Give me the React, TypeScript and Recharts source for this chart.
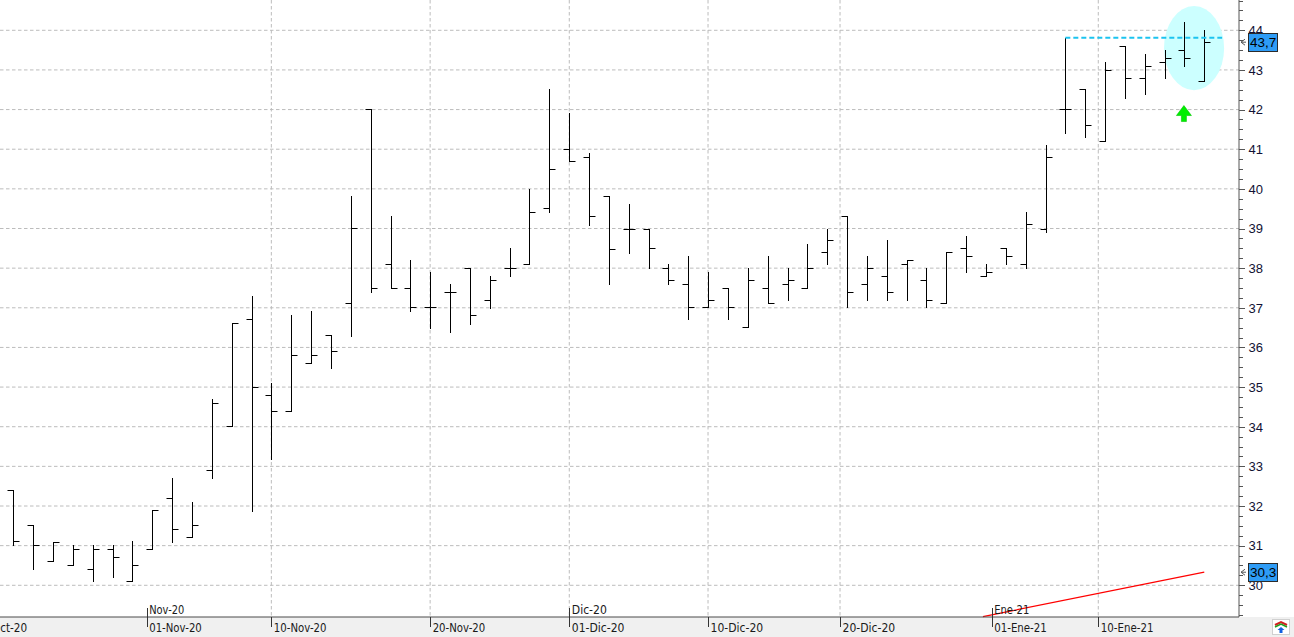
import React from 'react';
import {
  ComposedChart,
  Bar,
  XAxis,
  YAxis,
  CartesianGrid,
  ReferenceLine,
  ReferenceDot,
  ReferenceArea,
} from 'recharts';

// Daily OHLC bars (22-Oct-20 .. 18-Ene-21), one per trading day
const opens = [
  32.4, 31.52, 30.61, 30.5, 30.41, 30.91, 30.11, 30.91, 32.2, 31.21,
  32.91, 34.02, 36.71, 34.79, 34.39, 35.6, 36.31, 37.12, 42.01, 38.1,
  37.49, 37.01, 37.39, 38.0, 37.19, 38.0, 38.1, 39.51, 41.0, 40.8,
  39.81, 39.0, 39.0, 38.0, 37.59, 37.01, 37.49, 36.51, 37.49, 37.59,
  37.49, 38.4, 39.32, 37.59, 37.79, 38.1, 37.7, 37.11, 38.5, 37.79,
  38.5, 38.1, 39.0, 42.01, 42.51, 41.2, 43.6, 42.79, 43.19, 43.5,
  42.72,
];
const highs = [
  32.4, 31.52, 31.1, 31.02, 31.02, 31.02, 31.12, 31.9, 32.71, 32.11,
  34.7, 36.61, 37.3, 35.1, 36.82, 36.92, 36.31, 39.82, 42.01, 39.32,
  38.21, 37.9, 37.6, 38.0, 37.79, 38.5, 39.99, 42.51, 41.92, 40.9,
  39.81, 39.62, 39.0, 38.1, 38.3, 37.9, 37.49, 38.0, 38.3, 38.0,
  38.6, 39.0, 39.32, 38.3, 38.7, 38.2, 38.0, 38.4, 38.8, 38.1,
  38.5, 39.41, 41.11, 43.81, 42.51, 43.19, 43.6, 43.39, 43.5, 44.2,
  44.0,
];
const lows = [
  31.02, 30.41, 30.61, 30.5, 30.1, 30.2, 30.11, 30.91, 31.1, 31.21,
  32.7, 34.02, 31.88, 33.19, 34.39, 35.6, 35.48, 36.29, 37.39, 37.49,
  36.91, 36.49, 36.4, 36.6, 37.0, 37.79, 38.1, 39.41, 40.7, 39.1,
  37.59, 38.39, 38.0, 37.59, 36.71, 37.01, 36.71, 36.51, 37.11, 37.19,
  37.49, 38.1, 37.01, 37.19, 37.19, 37.19, 37.01, 37.11, 37.9, 37.79,
  38.1, 38.0, 38.9, 41.4, 41.3, 41.2, 42.3, 42.4, 42.79, 43.09,
  42.72,
];
const closes = [
  31.12, 31.02, 31.1, 30.91, 30.91, 30.71, 30.5, 31.9, 31.41, 31.52,
  34.59, 36.61, 35.0, 34.39, 35.8, 35.8, 35.9, 39.01, 37.49, 37.49,
  37.01, 37.01, 37.39, 36.81, 37.69, 38.0, 39.41, 40.49, 40.7, 39.31,
  38.49, 39.0, 38.5, 37.7, 37.01, 37.2, 37.01, 37.7, 37.11, 37.7,
  38.0, 38.7, 37.39, 38.0, 37.39, 38.2, 37.2, 38.4, 38.3, 37.9,
  38.3, 39.11, 40.8, 42.01, 41.6, 42.99, 42.79, 43.09, 43.29, 43.29,
  43.7,
];

// X axis date ticks (in trading-day index units) and their labels
const xTickValues = [-2.08, 6.72, 13, 21, 28.01, 35, 41.65, 49.29, 54.66];
const xTickLabels = [
  '20-Oct-20', '01-Nov-20', '10-Nov-20', '20-Nov-20', '01-Dic-20',
  '10-Dic-20', '20-Dic-20', '01-Ene-21', '10-Ene-21',
];
const xMonthLabels = ['', 'Nov-20', '', '', 'Dic-20', '', '', 'Ene-21', ''];
const xGridValues = [13, 21, 28.01, 35, 41.65, 54.66];

// Y axis
const yGridValues = [30, 31, 32, 33, 34, 35, 36, 37, 38, 39, 40, 41, 42, 43, 44];
const yMinorTicks = [
  29.25, 29.5, 29.75, 30, 30.25, 30.5, 30.75, 31, 31.25, 31.5, 31.75, 32,
  32.25, 32.5, 32.75, 33, 33.25, 33.5, 33.75, 34, 34.25, 34.5, 34.75, 35,
  35.25, 35.5, 35.75, 36, 36.25, 36.5, 36.75, 37, 37.25, 37.5, 37.75, 38,
  38.25, 38.5, 38.75, 39, 39.25, 39.5, 39.75, 40, 40.25, 40.5, 40.75, 41,
  41.25, 41.5, 41.75, 42, 42.25, 42.5, 42.75, 43, 43.25, 43.5, 43.75, 44,
  44.25, 44.5, 44.75,
];

// Annotations
const resistanceLevel = { fromX: 53, toX: 60.9, value: 43.81 };
const trendLine = { fromX: 48.85, fromY: 29.21, toX: 60, toY: 30.33 };
const highlightZone = { x1: 57.97, x2: 61.0, y1: 42.49, y2: 44.61 };
const signalArrow = { x: 59, y: 41.9 };
const lastClose = closes[closes.length - 1];
const valueTags = [lastClose, trendLine.toY];

const data = opens.map((o, i) => ({
  i,
  range: [lows[i], highs[i]],
  open: o,
  high: highs[i],
  low: lows[i],
  close: closes[i],
}));

const OhlcShape = (props: any) => {
  const { x, y, width, height, payload } = props;
  if (x == null || y == null || !payload) return null;
  const cx = Math.round(x + width / 2) + 0.5;
  const top = Math.min(y, y + height);
  const bottom = Math.max(y, y + height);
  const span = payload.high - payload.low;
  const py = (v: number) =>
    span === 0 ? top : top + ((payload.high - v) / span) * (bottom - top);
  const yo = Math.round(py(payload.open)) + 0.5;
  const yc = Math.round(py(payload.close)) + 0.5;
  return (
    <g stroke="#000" strokeWidth={1} fill="none">
      <line x1={cx} x2={cx} y1={Math.round(top)} y2={Math.round(bottom) + 1} />
      <line x1={cx - 6} x2={cx} y1={yo} y2={yo} />
      <line x1={cx} x2={cx + 6} y1={yc} y2={yc} />
    </g>
  );
};

const XTick = (props: any) => {
  const { x, y, payload } = props;
  const idx = xTickValues.indexOf(payload.value);
  if (idx < 0) return null;
  const label = xTickLabels[idx];
  const month = xMonthLabels[idx];
  const tx = Math.round(x) + 0.5;
  return (
    <g>
      <line x1={tx} x2={tx} y1={month ? y - 9 : y} y2={y + 10} stroke="#333" strokeWidth={1} />
      <text
        x={x + 2.5}
        y={y + 15}
        fontSize={13}
        fontFamily="DejaVu Sans"
        fill="#1a1a1a"
        textLength={label.length * 5.85}
        lengthAdjust="spacingAndGlyphs"
      >
        {label}
      </text>
      {month ? (
        <text
          x={x + 2.5}
          y={y - 3}
          fontSize={13}
          fontFamily="DejaVu Sans"
          fill="#1a1a1a"
          textLength={month.length * 5.85}
          lengthAdjust="spacingAndGlyphs"
        >
          {month}
        </text>
      ) : null}
    </g>
  );
};

const YTick = (props: any) => {
  const { x, y, payload } = props;
  const v = payload.value;
  const tagIdx = valueTags.indexOf(v);
  if (tagIdx >= 0) {
    const label = v.toFixed(1).replace('.', ',');
    return (
      <g>
        <polyline
          points={`${x + 6},${y - 3} ${x + 2},${y} ${x + 6},${y + 3}`}
          fill="none"
          stroke="#555"
          strokeWidth={1}
        />
        <line x1={x + 2} x2={x + 7} y1={y} y2={y} stroke="#555" strokeWidth={1} />
        <rect x={x + 9.5} y={Math.round(y) - 8.5} width={29} height={18} fill="#2e9cf6" stroke="#2b2b2b" strokeWidth={1} />
        <text x={x + 11} y={y + 5} fontSize={13.5} fontFamily="Liberation Sans" fill="#000">
          {label}
        </text>
      </g>
    );
  }
  const major = Math.abs(v - Math.round(v)) < 1e-6;
  const ty = Math.round(y) + 0.5;
  return (
    <g>
      <line x1={x} x2={x + (major ? 6 : 4)} y1={ty} y2={ty} stroke="#555" strokeWidth={1} />
      {major ? (
        <text x={x + 9.5} y={y + 4.8} fontSize={13} fontFamily="Liberation Sans" fill="#111133">
          {String(v)}
        </text>
      ) : null}
    </g>
  );
};

const EllipseShape = (p: any) => {
  if (p.x == null) return null;
  return (
    <ellipse
      cx={p.x + p.width / 2}
      cy={p.y + p.height / 2}
      rx={Math.abs(p.width) / 2}
      ry={Math.abs(p.height) / 2}
      fill="#ccffff"
      stroke="none"
    />
  );
};

const ArrowShape = (p: any) => {
  const { cx, cy } = p;
  if (cx == null) return null;
  const c = cx - 0.5;
  return (
    <polygon
      points={`${c},${cy - 8} ${c + 7.5},${cy + 2} ${c + 2.5},${cy + 2} ${c + 2.5},${cy + 8} ${c - 2.5},${cy + 8} ${c - 2.5},${cy + 2} ${c - 7.5},${cy + 2}`}
      fill="#00ee00"
      stroke="#00c800"
      strokeWidth={0.6}
    />
  );
};

export default function App() {
  return (
    <div
      style={{
        position: 'absolute',
        left: 0,
        top: 0,
        width: 1294,
        height: 637,
        background: 'linear-gradient(#ffffff 0px, #ffffff 617px, #f0f0f0 617px, #f0f0f0 637px)',
        overflow: 'hidden',
      }}
    >
      <ComposedChart
        width={1294}
        height={637}
        data={data}
        margin={{ top: 0, right: 0, bottom: 0, left: 0 }}
      >
        <CartesianGrid
          stroke="#bcbcbc"
          strokeDasharray="3.5 2.5"
          horizontalValues={yGridValues}
          verticalValues={xGridValues}
        />
        <XAxis
          dataKey="i"
          type="number"
          domain={[-0.67, 61.75]}
          allowDataOverflow
          ticks={xTickValues}
          interval={0}
          tick={<XTick />}
          tickLine={false}
          tickSize={0}
          tickMargin={0}
          axisLine={{ stroke: '#4a4a4a' }}
          height={20}
        />
        <YAxis
          orientation="right"
          type="number"
          domain={[29.2, 44.764]}
          allowDataOverflow
          ticks={[...yMinorTicks, ...valueTags]}
          interval={0}
          tick={<YTick />}
          tickLine={false}
          tickSize={0}
          tickMargin={0}
          axisLine={{ stroke: '#555' }}
          width={55}
        />
        <ReferenceArea
          x1={highlightZone.x1}
          x2={highlightZone.x2}
          y1={highlightZone.y1}
          y2={highlightZone.y2}
          ifOverflow="visible"
          shape={<EllipseShape />}
        />
        <Bar dataKey="range" barSize={12} shape={<OhlcShape />} isAnimationActive={false} />
        <ReferenceLine
          segment={[
            { x: resistanceLevel.fromX, y: resistanceLevel.value },
            { x: resistanceLevel.toX, y: resistanceLevel.value },
          ]}
          stroke="#1cc4f0"
          strokeWidth={2}
          strokeDasharray="5 3"
          ifOverflow="visible"
        />
        <ReferenceLine
          segment={[
            { x: trendLine.fromX, y: trendLine.fromY },
            { x: trendLine.toX, y: trendLine.toY },
          ]}
          stroke="#ff0000"
          strokeWidth={1.2}
          ifOverflow="visible"
        />
        <ReferenceDot
          x={signalArrow.x}
          y={signalArrow.y}
          ifOverflow="visible"
          shape={<ArrowShape />}
        />
      </ComposedChart>
      <svg
        width={18}
        height={16}
        style={{ position: 'absolute', left: 1272, top: 619 }}
      >
        <rect x={0.5} y={0.5} width={17} height={15} fill="#ffffff" stroke="#d0d0d0" />
        <path d="M3 6 L9 3 L15 6" stroke="#d02020" strokeWidth={2} fill="none" />
        <path d="M3 8 L9 5 L15 8" stroke="#20a020" strokeWidth={1.5} fill="none" />
        <polygon points="9,8 12.5,11 10.5,11 10.5,14 7.5,14 7.5,11 5.5,11" fill="#1060e0" />
      </svg>
    </div>
  );
}
